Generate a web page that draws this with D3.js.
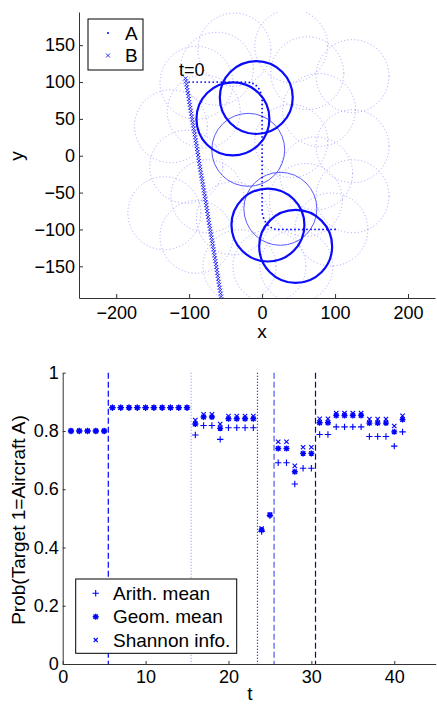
<!DOCTYPE html>
<html>
<head>
<meta charset="utf-8">
<script src="https://cdn.jsdelivr.net/npm/d3@7"></script>
<style>
    body { margin: 0; background: #fff; }
    svg text { font-family: "Liberation Sans", Arial, sans-serif; fill: #000; }
</style>
</head>
<body>
<svg id="chart" width="437" height="704"></svg>
<script>
// ---- top panel: trajectories (x, y) ----
var aX = [-100, -94.5, -89, -83.5, -78, -72.5, -67, -61.5, -56, -50.5, -45, -39.5, -34, -28.5, -23,
          -17.5, -12.5, -8, -4.5, -2, -0.5, 0,
          0, 0, 0, 0, 0, 0, 0, 0, 0, 0, 0, 0, 0, 0, 0, 0, 0, 0, 0, 0, 0, 0, 0, 0, 0, 0, 0,
          0.5, 2, 4.5, 8, 12.5, 17.5, 23,
          28.5, 34, 39.5, 45, 50.5, 56, 61.5, 67, 72.5, 78, 83.5, 89, 94.5, 100];
var aY = [100, 100, 100, 100, 100, 100, 100, 100, 100, 100, 100, 100, 100, 100, 100,
          99.5, 98, 95, 91, 86, 80.5, 75,
          69.5, 64, 58.5, 53, 47.5, 42, 36.5, 31, 25.5, 20, 14.5, 9, 3.5, -2, -7.5, -13, -18.5,
          -24, -29.5, -35, -40.5, -46, -51.5, -57, -62.5, -68, -73.5,
          -79, -84.5, -89.5, -94, -97.5, -99.5, -100,
          -100, -100, -100, -100, -100, -100, -100, -100, -100, -100, -100, -100, -100, -100];

var bX = [-105.0, -104.3, -103.7, -103.0, -102.4, -101.7, -101.0, -100.4, -99.7, -99.1,
          -98.4, -97.7, -97.1, -96.4, -95.8, -95.1, -94.4, -93.8, -93.1, -92.5,
          -91.8, -91.1, -90.5, -89.8, -89.2, -88.5, -87.8, -87.2, -86.5, -85.9,
          -85.2, -84.5, -83.9, -83.2, -82.6, -81.9, -81.2, -80.6, -79.9, -79.3,
          -78.6, -77.9, -77.3, -76.6, -76.0, -75.3, -74.6, -74.0, -73.3, -72.7,
          -72.0, -71.3, -70.7, -70.0, -69.4, -68.7, -68.0, -67.4, -66.7, -66.1,
          -65.4, -64.7, -64.1, -63.4, -62.8, -62.1, -61.4, -60.8, -60.1, -59.5,
          -58.8, -58.1, -57.5, -56.8, -56.2, -55.5];
var bY = [105, 101, 97, 93, 89, 85, 81, 77, 73, 69,
          65, 61, 57, 53, 49, 45, 41, 37, 33, 29,
          25, 21, 17, 13, 9, 5, 1, -3, -7, -11,
          -15, -19, -23, -27, -31, -35, -39, -43, -47, -51,
          -55, -59, -63, -67, -71, -75, -79, -83, -87, -91,
          -95, -99, -103, -107, -111, -115, -119, -123, -127, -131,
          -135, -139, -143, -147, -151, -155, -159, -163, -167, -171,
          -175, -179, -183, -187, -191, -195];

// circles (radius 50)
var circleR = 50;
var dotCircX = [-38, 40, 124, 124, 124, -125, -134, -31, 47, -90, -104, 78, 74, -62, 62, -75, -90, 95, -40, 10, 40, -80, 60];
var dotCircY = [144, 149, 108, 13, -55, 40, -78, -150, -150, 99, -15, 62, -24, 118, 112, -55, -110, -100, -85, -150, 20, 60, -60];
var thinCircX = [-19, 25];
var thinCircY = [8, -72];
var thickCircX = [-8, -40, 8, 46];
var thickCircY = [79, 50, -94, -123];

var topXTicks = [-200, -100, 0, 100, 200];
var topYTicks = [-150, -100, -50, 0, 50, 100, 150];

// ---- bottom panel: probabilities over t ----
var tVals = [1, 2, 3, 4, 5, 6, 7, 8, 9, 10, 11, 12, 13, 14, 15, 16, 17, 18, 19, 20, 21,
             22, 23, 24, 25, 26, 27, 28, 29, 30, 31, 32, 33, 34, 35, 36, 37, 38, 39, 40, 41];
var arith = [0.8, 0.8, 0.8, 0.8, 0.8, 0.88, 0.88, 0.88, 0.88, 0.88, 0.88, 0.88, 0.88, 0.88, 0.88,
             0.786, 0.819, 0.819, 0.771, 0.811, 0.811, 0.811, 0.811, 0.455, 0.51,
             0.691, 0.691, 0.618, 0.672, 0.672, 0.788, 0.788, 0.814, 0.814, 0.814, 0.814,
             0.781, 0.781, 0.781, 0.748, 0.797];
var geom = [0.8, 0.8, 0.8, 0.8, 0.8, 0.88, 0.88, 0.88, 0.88, 0.88, 0.88, 0.88, 0.88, 0.88, 0.88,
            0.824, 0.848, 0.848, 0.809, 0.842, 0.842, 0.842, 0.842, 0.46, 0.511,
            0.74, 0.74, 0.66, 0.723, 0.723, 0.828, 0.828, 0.853, 0.853, 0.853, 0.853,
            0.827, 0.827, 0.827, 0.797, 0.839];
var shannon = [0.8, 0.8, 0.8, 0.8, 0.8, 0.88, 0.88, 0.88, 0.88, 0.88, 0.88, 0.88, 0.88, 0.88, 0.88,
               0.837, 0.857, 0.857, 0.824, 0.851, 0.851, 0.851, 0.851, 0.465, 0.513,
               0.763, 0.763, 0.68, 0.744, 0.744, 0.842, 0.842, 0.861, 0.861, 0.861, 0.861,
               0.841, 0.841, 0.841, 0.817, 0.852];

var vlineT = [5.5, 15.5, 23.5, 25.5, 30.5];
var vlineColor = ['#0000ff', '#9a9aff', '#10108a', '#4a5aee', '#0c0c80'];
var vlineDash = ['6,3', '1,2', '1,2', '6,3', '6,3'];

var botXTicks = [0, 10, 20, 30, 40];
var botYTicks = [0, 0.2, 0.4, 0.6, 0.8, 1];

var BLUE = '#0000ff';
var svg = d3.select('#chart');

// ---------------------------------------------------------------- top
var xT = d3.scaleLinear().domain([-251, 237]).range([79, 435]),
    yT = d3.scaleLinear().domain([-193, 195]).range([298, 12]);

svg.append('defs').append('clipPath').attr('id', 'top_clip').append('rect')
    .attr('x', 79).attr('y', 12).attr('width', 356).attr('height', 286);

var gT = svg.append('g').attr('clip-path', 'url(#top_clip)');

gT.selectAll('circle.dotc').data(dotCircX).enter().append('circle')
    .attr('class', 'dotc')
    .attr('cx', function(d) { return xT(d); })
    .attr('cy', function(d, i) { return yT(dotCircY[i]); })
    .attr('r', xT(circleR) - xT(0))
    .attr('fill', 'none').attr('stroke', '#8c8cff').attr('stroke-width', 0.8)
    .attr('stroke-dasharray', '1,2.4');

gT.selectAll('circle.thinc').data(thinCircX).enter().append('circle')
    .attr('class', 'thinc')
    .attr('cx', function(d) { return xT(d); })
    .attr('cy', function(d, i) { return yT(thinCircY[i]); })
    .attr('r', xT(circleR) - xT(0))
    .attr('fill', 'none').attr('stroke', '#5a5aff').attr('stroke-width', 1);

gT.selectAll('circle.thickc').data(thickCircX).enter().append('circle')
    .attr('class', 'thickc')
    .attr('cx', function(d) { return xT(d); })
    .attr('cy', function(d, i) { return yT(thickCircY[i]); })
    .attr('r', xT(circleR) - xT(0))
    .attr('fill', 'none').attr('stroke', '#0a0aff').attr('stroke-width', 2.2);

// A : dots
gT.selectAll('circle.adot').data(aX).enter().append('circle')
    .attr('class', 'adot')
    .attr('cx', function(d) { return xT(d); })
    .attr('cy', function(d, i) { return yT(aY[i]); })
    .attr('r', 0.9).attr('fill', BLUE);

// B : x markers
function xMark(sel, px, py, h) {
    sel.append('path')
        .attr('d', 'M' + (px - h) + ',' + (py - h) + 'L' + (px + h) + ',' + (py + h) +
                   'M' + (px - h) + ',' + (py + h) + 'L' + (px + h) + ',' + (py - h));
}
var bG = gT.append('g').attr('stroke', BLUE).attr('stroke-width', 0.8).attr('fill', 'none');
bX.forEach(function(d, i) { xMark(bG, xT(d), yT(bY[i]), 2); });

svg.append('text').attr('x', 179).attr('y', 75.5).attr('font-size', 18).text('t=0');

// axes (ticks inward, box off)
var axT = svg.append('g').attr('transform', 'translate(0,298)')
    .call(d3.axisBottom(xT).tickValues(topXTicks).tickSizeInner(-4).tickSizeOuter(0).tickPadding(8));
var ayT = svg.append('g').attr('transform', 'translate(79,0)')
    .call(d3.axisLeft(yT).tickValues(topYTicks).tickSizeInner(-4).tickSizeOuter(0).tickPadding(4));
[axT, ayT].forEach(function(a) {
    a.selectAll('text').attr('font-size', 18).attr('font-family', '"Liberation Sans", Arial, sans-serif');
    a.selectAll('path, line').attr('stroke', '#333').attr('stroke-width', 1);
});

svg.append('text').attr('x', 262).attr('y', 338).attr('text-anchor', 'middle').attr('font-size', 19).text('x');
svg.append('text').attr('transform', 'translate(23,156) rotate(-90)').attr('text-anchor', 'middle')
    .attr('font-size', 19).text('y');

// legend A / B
var lgT = svg.append('g');
lgT.append('rect').attr('x', 88).attr('y', 19).attr('width', 55).attr('height', 51)
    .attr('fill', '#fff').attr('stroke', '#000').attr('stroke-width', 1);
lgT.append('circle').attr('cx', 108).attr('cy', 33).attr('r', 1).attr('fill', BLUE);
var lgB = lgT.append('g').attr('stroke', BLUE).attr('stroke-width', 0.8);
xMark(lgB, 108, 55.5, 2);
lgT.append('text').attr('x', 125).attr('y', 40).attr('font-size', 19).text('A');
lgT.append('text').attr('x', 125).attr('y', 62).attr('font-size', 19).text('B');

// ---------------------------------------------------------------- bottom
var xB = d3.scaleLinear().domain([0, 45]).range([62.7, 435.7]),
    yB = d3.scaleLinear().domain([0, 1]).range([664, 372.7]);

svg.selectAll('line.vl').data(vlineT).enter().append('line')
    .attr('class', 'vl')
    .attr('x1', function(d) { return xB(d); }).attr('x2', function(d) { return xB(d); })
    .attr('y1', yB(1)).attr('y2', yB(0))
    .attr('stroke', function(d, i) { return vlineColor[i]; })
    .attr('stroke-dasharray', function(d, i) { return vlineDash[i]; })
    .attr('stroke-width', 1.2);

var mG = svg.append('g').attr('stroke', BLUE).attr('stroke-width', 1.1).attr('fill', 'none');
tVals.forEach(function(t, i) {
    var px = xB(t), h;
    // '+' arithmetic mean
    var py = yB(arith[i]);
    h = 3.2;
    mG.append('path').attr('d', 'M' + (px - h) + ',' + py + 'H' + (px + h) + 'M' + px + ',' + (py - h) + 'V' + (py + h));
    // '*' geometric mean
    py = yB(geom[i]);
    h = 3;
    var d2 = 2.2;
    mG.append('path').attr('stroke-width', 1.4)
        .attr('d', 'M' + (px - h) + ',' + py + 'H' + (px + h) + 'M' + px + ',' + (py - h) + 'V' + (py + h) +
                   'M' + (px - d2) + ',' + (py - d2) + 'L' + (px + d2) + ',' + (py + d2) +
                   'M' + (px - d2) + ',' + (py + d2) + 'L' + (px + d2) + ',' + (py - d2));
    // 'x' shannon info
    xMark(mG, px, yB(shannon[i]), 2.2);
});

var axB = svg.append('g').attr('transform', 'translate(0,664)')
    .call(d3.axisBottom(xB).tickValues(botXTicks).tickSizeInner(-3).tickSizeOuter(0).tickPadding(6));
var ayB = svg.append('g').attr('transform', 'translate(62.7,0)')
    .call(d3.axisLeft(yB).tickValues(botYTicks).tickFormat(d3.format('~g')).tickSizeInner(-3).tickSizeOuter(0).tickPadding(4));
[axB, ayB].forEach(function(a) {
    a.selectAll('text').attr('font-size', 18).attr('font-family', '"Liberation Sans", Arial, sans-serif');
    a.selectAll('path, line').attr('stroke', '#333').attr('stroke-width', 1);
});

svg.append('text').attr('x', 250).attr('y', 700).attr('text-anchor', 'middle').attr('font-size', 19).text('t');
svg.append('text').attr('transform', 'translate(25,520) rotate(-90)').attr('text-anchor', 'middle')
    .attr('font-size', 19).text('Prob(Target 1=Aircraft A)');

// legend
var lg = svg.append('g');
lg.append('rect').attr('x', 75.7).attr('y', 579).attr('width', 161).attr('height', 74.3)
    .attr('fill', '#fff').attr('stroke', '#000').attr('stroke-width', 1);
var lgM = lg.append('g').attr('stroke', BLUE).attr('stroke-width', 1.1);
lgM.append('path').attr('d', 'M92.5,593.3H98.9M95.7,590.1V596.5');
lgM.append('path').attr('stroke-width', 1.4)
    .attr('d', 'M92.7,616.7H98.7M95.7,613.7V619.7M93.5,614.5L97.9,618.9M93.5,618.9L97.9,614.5');
xMark(lgM, 95.7, 640, 2);
lg.append('text').attr('x', 113).attr('y', 600).attr('font-size', 19).text('Arith. mean');
lg.append('text').attr('x', 113).attr('y', 623.4).attr('font-size', 19).text('Geom. mean');
lg.append('text').attr('x', 113).attr('y', 646.7).attr('font-size', 19).text('Shannon info.');
</script>
</body>
</html>
